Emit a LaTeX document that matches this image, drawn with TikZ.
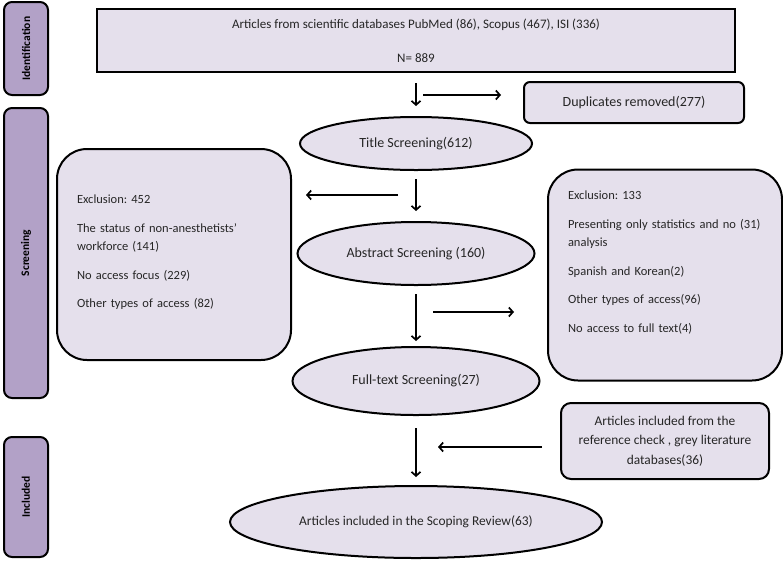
\documentclass[tikz,border=0pt]{standalone}
\usepackage{fontspec}
\setmainfont{Carlito}
\usepackage{tikz}
\usetikzlibrary{shapes.geometric, arrows.meta}
\definecolor{barpurple}{RGB}{178,161,199}
\definecolor{boxlilac}{RGB}{229,224,236}
\frenchspacing

\begin{document}
\begin{tikzpicture}[x=1pt, y=-1pt,
        every node/.style={text=black!85, font=\fontsize{13}{18.5}\selectfont},
        phase/.style={rectangle, draw, line width=2pt, rounded corners=8pt, fill=barpurple, rotate=90, minimum height=44pt, text=black, font=\fontsize{11.5}{14}\selectfont\bfseries},
        box/.style={rectangle, draw, line width=2pt, fill=boxlilac},
        oval/.style={ellipse, draw, line width=2pt, fill=boxlilac, inner sep=0pt, font=\fontsize{14}{17}\selectfont},
        exclusion/.style={box, rounded corners=30pt, text width=194pt, inner xsep=20pt, minimum height=211pt, align=left, font=\fontsize{12.5}{18.5}\selectfont},
        flow/.style={-{Straight Barb[length=4pt, width=9pt]}, line width=1.7pt}
    ]
%
    \useasboundingbox (0,0) rectangle (783,560);
%
    % Phase bars
    \node[phase, minimum width=93pt] (idbar) at (26,48.5) {Identification};
    \node[phase, minimum width=290pt] (scrbar) at (26,253) {Screening};
    \node[phase, minimum width=120pt] (incbar) at (26,497) {Included};
%
    % Main column
    \node[box, minimum width=638pt, minimum height=63pt, align=center] (db) at (416,40.5) {Articles from scientific databases PubMed (86), Scopus (467), ISI (336)\\[15.5pt]N= 889};
    \node[oval, minimum width=232pt, minimum height=53pt] (title) at (416,143.5) {Title Screening(612)};
    \node[oval, minimum width=237pt, minimum height=63pt] (abstract) at (416,253.5) {Abstract Screening (160)};
    \node[oval, minimum width=247pt, minimum height=68pt] (fulltext) at (416,381) {Full-text Screening(27)};
    \node[oval, minimum width=372pt, minimum height=72pt, font=\fontsize{13.4}{17}\selectfont] (review) at (416,522) {Articles included in the Scoping Review(63)};
%
    % Side boxes
    \node[box, rounded corners=6pt, minimum width=220pt, minimum height=41pt, font=\fontsize{14}{17}\selectfont] (dup) at (634,102.5) {Duplicates removed(277)};
    \node[exclusion] (excl1) at (174,254.5) {Exclusion: 452\\[10pt]The status of non-anesthetists'\\workforce (141)\\[10pt]No access focus (229)\\[10pt]Other types of access (82)\\[-12pt]\mbox{}};
    \node[exclusion] (excl2) at (665,275) {Exclusion: 133\\[10pt]Presenting only statistics and no (31)\\analysis\\[10pt]Spanish and Korean(2)\\[10pt]Other types of access(96)\\[10pt]No access to full text(4)\\[8pt]\mbox{}};
    \node[box, rounded corners=10pt, minimum width=208pt, minimum height=76pt, align=center, font=\fontsize{13.4}{19.5}\selectfont] (extra) at (665,441) {Articles included from the\\reference check , grey literature\\databases(36)};
%
    % Split points on the main column
    \coordinate (s1) at (416,95);
    \coordinate (s2) at (416,195);
    \coordinate (s3) at (416,312);
    \coordinate (s4) at (416,447);
%
    % Arrows
    \draw[flow, shorten <=10pt, shorten >=10pt] (db) -- (title);
    \draw[flow, shorten <=8pt, shorten >=10pt] (title) -- (abstract);
    \draw[flow, shorten <=8pt, shorten >=5pt] (abstract) -- (fulltext);
    \draw[flow, shorten <=12pt, shorten >=8pt] (fulltext) -- (review);
    \draw[flow, shorten <=7pt, shorten >=22pt] (s1) -- (s1 -| dup.west);
    \draw[flow, shorten <=18pt, shorten >=14pt] (s2) -- (s2 -| excl1.east);
    \draw[flow, shorten <=17pt, shorten >=33pt] (s3) -- (s3 -| excl2.west);
    \draw[flow, shorten <=18pt, shorten >=22pt] (s4 -| extra.west) -- (s4);
%
\end{tikzpicture}
\end{document}
